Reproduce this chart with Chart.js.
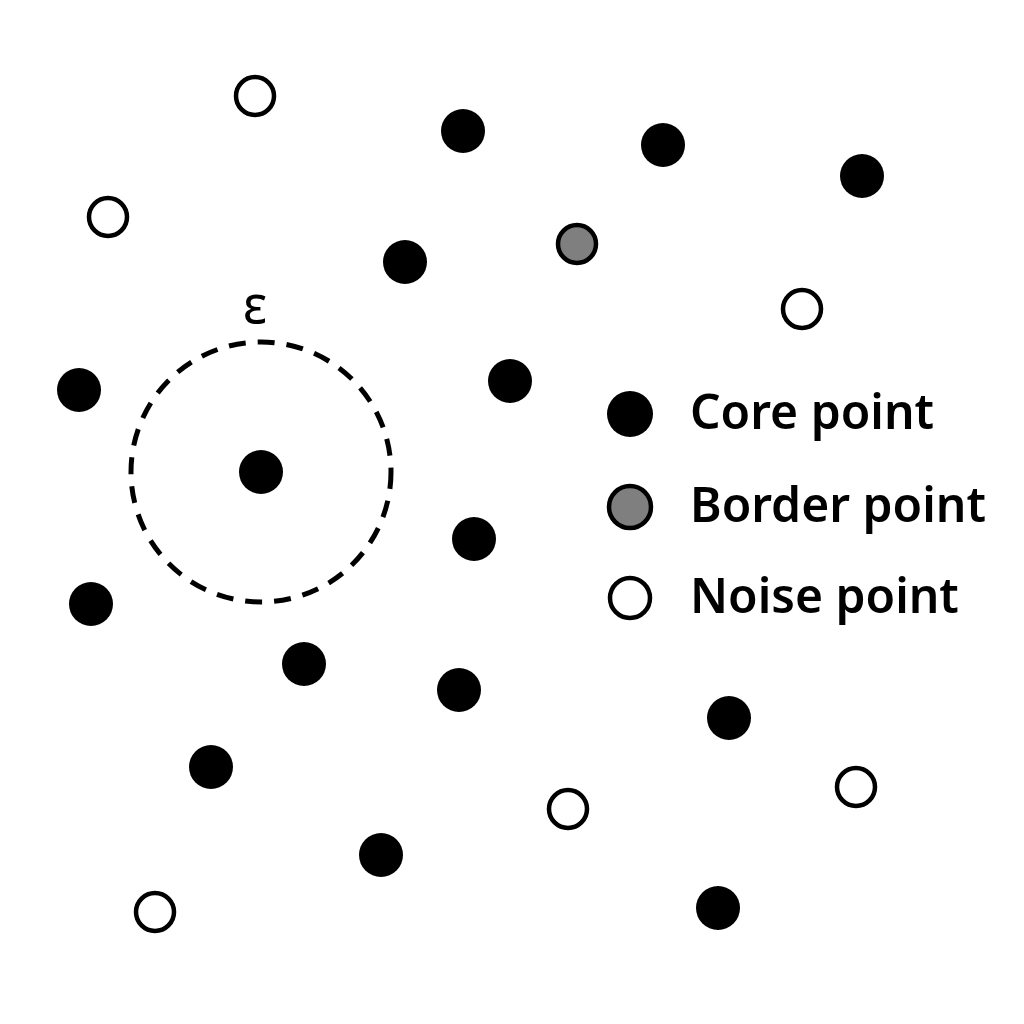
<!DOCTYPE html>
<html>
<head>
<meta charset="utf-8">
<script src="https://cdn.jsdelivr.net/npm/chart.js@4"></script>
<style>
  html, body { margin: 0; padding: 0; background: #fff; }
  #wrap { width: 1024px; height: 1024px; }
</style>
</head>
<body>
<div id="wrap"><canvas id="dbscan"></canvas></div>
<script>
// positions (x right, y down, 0..1024)
const coreX = [463, 663, 862, 405, 79, 510, 261, 474, 91, 304, 459, 729, 211, 381, 718]
const coreY = [131, 145, 176, 262, 390, 381, 472, 539, 604, 664, 690, 718, 767, 855, 908]
const borderX = [577]
const borderY = [244]
const noiseX = [255, 108, 802, 568, 856, 155]
const noiseY = [96, 217, 309, 809, 787, 912]

// epsilon neighbourhood around one core point
const epsCenter = [261, 472]
const epsRadius = 130
const epsLabel = 'ε'

const legendLabels = ['Core point', 'Border point', 'Noise point']

const toPoints = (xs, ys) => xs.map((x, i) => ({ x: x, y: ys[i] }))

// dashed circle + epsilon symbol
const epsPlugin = {
    id: 'eps',
    beforeDatasetsDraw(chart) {
        const ctx = chart.ctx
        const xs = chart.scales.x, ys = chart.scales.y
        const cx = xs.getPixelForValue(epsCenter[0])
        const cy = ys.getPixelForValue(epsCenter[1])
        const r = xs.getPixelForValue(epsCenter[0] + epsRadius) - cx
        ctx.save()
        ctx.beginPath()
        ctx.arc(cx, cy, r, 0, Math.PI * 2)
        ctx.setLineDash([17, 12])
        ctx.lineWidth = 5
        ctx.strokeStyle = '#000'
        ctx.stroke()
        ctx.setLineDash([])
        ctx.fillStyle = '#000'
        ctx.font = '52px "Noto Sans"'
        ctx.textAlign = 'center'
        ctx.textBaseline = 'alphabetic'
        ctx.fillText(epsLabel, cx - 6, cy - r - 19)
        ctx.restore()
    }
}

// legend drawn inside the plot, right side
const legendPlugin = {
    id: 'insideLegend',
    afterDraw(chart) {
        const ctx = chart.ctx
        const rows = [414, 507, 598]
        ctx.save()
        chart.data.datasets.forEach((ds, i) => {
            const y = rows[i]
            ctx.beginPath()
            ctx.arc(630, y, ds.legendRadius, 0, Math.PI * 2)
            ctx.fillStyle = ds.backgroundColor
            ctx.fill()
            if (ds.borderWidth) {
                ctx.lineWidth = ds.borderWidth
                ctx.strokeStyle = ds.borderColor
                ctx.stroke()
            }
            ctx.fillStyle = '#000'
            ctx.font = '600 48px "Noto Sans"'
            ctx.textBaseline = 'middle'
            ctx.fillText(legendLabels[i], 690, y + 1)
        })
        ctx.restore()
    }
}

const ctx = document.querySelector('#dbscan')
const chart = new Chart(ctx, {
    type: 'scatter',
    data: {
        datasets: [
            {
                label: legendLabels[0],
                data: toPoints(coreX, coreY),
                backgroundColor: '#000',
                borderColor: '#000',
                borderWidth: 0,
                pointRadius: 22,
                legendRadius: 23
            },
            {
                label: legendLabels[1],
                data: toPoints(borderX, borderY),
                backgroundColor: '#7f7f7f',
                borderColor: '#000',
                borderWidth: 4.5,
                pointRadius: 19,
                legendRadius: 21
            },
            {
                label: legendLabels[2],
                data: toPoints(noiseX, noiseY),
                backgroundColor: '#fff',
                borderColor: '#000',
                borderWidth: 4.5,
                pointRadius: 19,
                legendRadius: 20
            }
        ]
    },
    options: {
        responsive: true,
        maintainAspectRatio: false,
        animation: false,
        layout: { padding: 0, autoPadding: false },
        scales: {
            x: { type: 'linear', min: 0, max: 1024, display: false },
            y: { type: 'linear', min: 0, max: 1024, reverse: true, display: false }
        },
        plugins: {
            legend: { display: false },
            tooltip: { enabled: false }
        }
    },
    plugins: [epsPlugin, legendPlugin]
})
</script>
</body>
</html>
